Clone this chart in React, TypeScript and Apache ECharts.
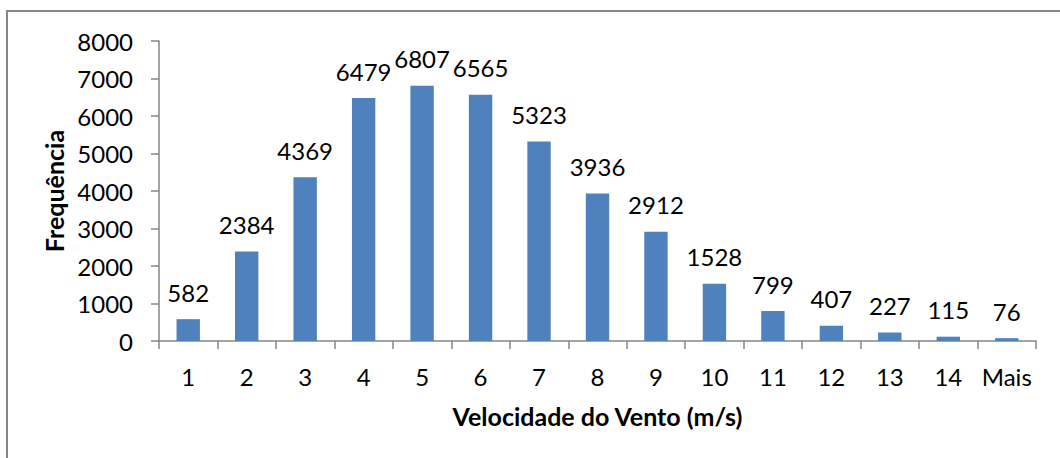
import React, { useEffect, useRef } from "react";
import * as echarts from "echarts";

const categories = ["1", "2", "3", "4", "5", "6", "7", "8", "9", "10", "11", "12", "13", "14", "Mais"];
const frequencies = [582, 2384, 4369, 6479, 6807, 6565, 5323, 3936, 2912, 1528, 799, 407, 227, 115, 76];
const yTitle = "Frequência";
const xTitle = "Velocidade do Vento (m/s)";

const FONT = "Lato, 'Open Sans', sans-serif";

export default function App() {
  const ref = useRef<HTMLDivElement>(null);
  useEffect(() => {
    if (!ref.current) return;
    const chart = echarts.init(ref.current, undefined, { renderer: "svg" });
    chart.setOption({
      animation: false,
      backgroundColor: "#ffffff",
      textStyle: { fontFamily: FONT },
      graphic: [
        {
          type: "rect",
          shape: { x: 7, y: 11, width: 1200, height: 600 },
          style: { fill: "none", stroke: "#868686", lineWidth: 2 },
          silent: true,
        },
      ],
      grid: { left: 159, right: 24, top: 41, bottom: 117 },
      xAxis: {
        type: "category",
        data: categories,
        boundaryGap: true,
        name: xTitle,
        nameLocation: "middle",
        nameGap: 62,
        nameTextStyle: { fontFamily: FONT, fontSize: 25, fontWeight: "bold", color: "#000" },
        axisLine: { lineStyle: { color: "#868686", width: 1.5 } },
        axisTick: { show: true, length: 8, alignWithLabel: false, lineStyle: { color: "#868686", width: 1.5 } },
        axisLabel: { fontFamily: FONT, fontSize: 24, color: "#000", margin: 23, interval: 0 },
        splitLine: { show: false },
      },
      yAxis: {
        type: "value",
        min: 0,
        max: 8000,
        interval: 1000,
        name: yTitle,
        nameLocation: "middle",
        nameGap: 90,
        nameRotate: 90,
        nameTextStyle: { fontFamily: FONT, fontSize: 25, fontWeight: "bold", color: "#000" },
        axisLine: { show: true, lineStyle: { color: "#868686", width: 1.5 } },
        axisTick: { show: true, length: 8, lineStyle: { color: "#868686", width: 1.5 } },
        axisLabel: {
          fontFamily: FONT,
          fontSize: 24,
          color: "#000",
          margin: 26,
          formatter: (v: number) => String(v),
        },
        splitLine: { show: false },
      },
      series: [
        {
          type: "bar",
          data: frequencies,
          barWidth: "40%",
          itemStyle: { color: "#4F81BD" },
          label: {
            show: true,
            position: "top",
            distance: 15,
            fontFamily: FONT,
            fontSize: 24,
            color: "#000",
          },
        },
      ],
    });
    return () => chart.dispose();
  }, []);
  return (
    <div
      ref={ref}
      style={{ position: "fixed", left: 0, top: 0, width: 1060, height: 458, background: "#fff" }}
    />
  );
}
